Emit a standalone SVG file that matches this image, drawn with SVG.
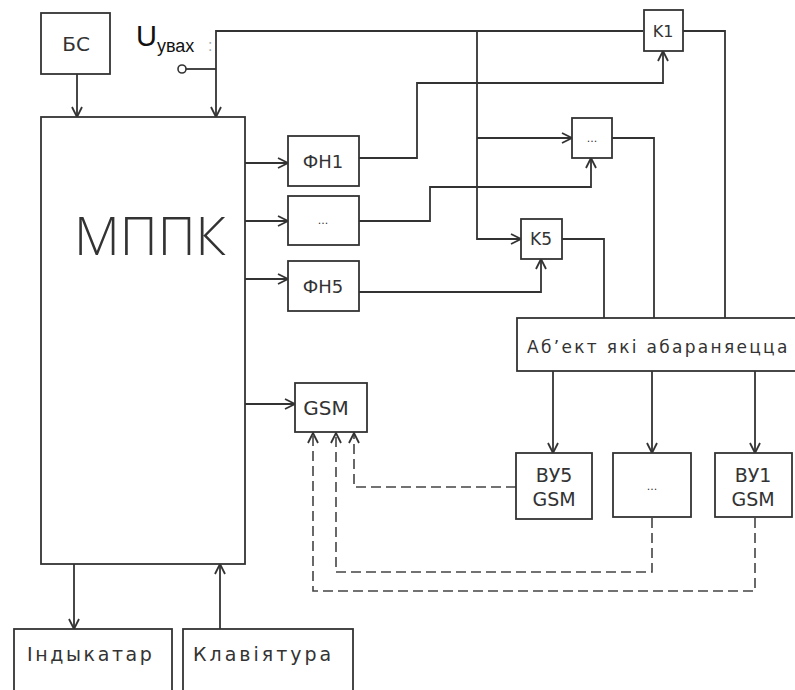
<svg xmlns="http://www.w3.org/2000/svg" width="795" height="690" viewBox="0 0 795 690">
<style>
.box{fill:#fff;stroke:#333;stroke-width:1.8}
.ln{fill:none;stroke:#333;stroke-width:1.8}
.dash{fill:none;stroke:#444;stroke-width:1.6;stroke-dasharray:10 5}
.t{font-family:"DejaVu Sans","Liberation Sans",sans-serif;fill:#333;text-anchor:middle}
</style>
<defs>
<marker id="ar" viewBox="0 0 12 12" refX="11" refY="6" markerWidth="12" markerHeight="12" markerUnits="userSpaceOnUse" orient="auto">
<path d="M1,1 L11,6 L1,11" fill="none" stroke="#333" stroke-width="1.8"/>
</marker>
</defs>
<rect width="795" height="690" fill="#fff"/>
<g id="connectors">
<path class="ln" d="M77,74 V117" marker-end="url(#ar)"/>
<path class="ln" d="M643,31 H216 V117" marker-end="url(#ar)"/>
<path class="ln" d="M186,69 H216"/>
<path class="ln" d="M477,31 V239 H521" marker-end="url(#ar)"/>
<path class="ln" d="M477,138 H572" marker-end="url(#ar)"/>
<path class="ln" d="M245,163 H288" marker-end="url(#ar)"/>
<path class="ln" d="M245,221 H288" marker-end="url(#ar)"/>
<path class="ln" d="M245,279 H288" marker-end="url(#ar)"/>
<path class="ln" d="M245,404 H295" marker-end="url(#ar)"/>
<path class="ln" d="M359,158 H417 V83 H663 V51" marker-end="url(#ar)"/>
<path class="ln" d="M359,221 H430 V187 H591 V158" marker-end="url(#ar)"/>
<path class="ln" d="M359,292 H541 V259" marker-end="url(#ar)"/>
<path class="ln" d="M683,31 H725 V318"/>
<path class="ln" d="M612,138 H654 V318"/>
<path class="ln" d="M562,239 H604 V318"/>
<path class="ln" d="M553,371 V453" marker-end="url(#ar)"/>
<path class="ln" d="M652,371 V453" marker-end="url(#ar)"/>
<path class="ln" d="M755,371 V453" marker-end="url(#ar)"/>
<path class="dash" d="M516,487 H354 V433" marker-end="url(#ar)"/>
<path class="dash" d="M652,518 V572 H336 V433" marker-end="url(#ar)"/>
<path class="dash" d="M755,518 V591 H313 V433" marker-end="url(#ar)"/>
<path class="ln" d="M74,564 V629" marker-end="url(#ar)"/>
<path class="ln" d="M220,629 V564" marker-end="url(#ar)"/>
</g>
<g id="input">
<circle cx="182" cy="69" r="4" fill="#fff" stroke="#333" stroke-width="1.6"/>
<text x="136" y="46" font-family="Liberation Sans,Arial,sans-serif" font-size="29" fill="#111">U<tspan font-size="18" dy="6">увах</tspan></text>
<text x="208" y="51" font-family="Liberation Sans,Arial,sans-serif" font-size="16" fill="#aaa">:</text>
</g>
<g id="bs"><rect class="box" x="41" y="13" width="69" height="61"/><text class="t" x="76" y="51" font-size="20">БС</text></g>
<g id="mppk"><rect class="box" x="41" y="117" width="204" height="447"/><text class="t" x="150" y="255" font-size="53" fill="#555" style="font-weight:300;font-family:'Open Sans','DejaVu Sans',sans-serif">МППК</text></g>
<g id="k1"><rect class="box" x="644" y="10" width="39" height="41"/><text class="t" x="663" y="37" font-size="16">K1</text></g>
<g id="kmid"><rect class="box" x="572" y="118" width="40" height="40"/><text class="t" x="592" y="142" font-size="11" fill="#666">...</text></g>
<g id="k5"><rect class="box" x="521" y="219" width="41" height="40"/><text class="t" x="541" y="245" font-size="17">K5</text></g>
<g id="fh1"><rect class="box" x="288" y="136" width="71" height="50"/><text class="t" x="323" y="168" font-size="18">ФН1</text></g>
<g id="fhmid"><rect class="box" x="288" y="196" width="71" height="49"/><text class="t" x="323" y="224" font-size="11" fill="#666">...</text></g>
<g id="fh5"><rect class="box" x="288" y="261" width="71" height="50"/><text class="t" x="323" y="293" font-size="18">ФН5</text></g>
<g id="object"><rect class="box" x="517" y="318" width="290" height="53"/><text x="527" y="353" font-family="DejaVu Sans,sans-serif" font-size="17" fill="#333" letter-spacing="2.3">Аб’ект які абараняецца</text></g>
<g id="gsm"><rect class="box" x="295" y="383" width="72" height="49"/><text class="t" x="326" y="415" font-size="20">GSM</text></g>
<g id="by5"><rect class="box" x="516" y="453" width="76" height="66"/><text class="t" x="554" y="482" font-size="19">ВУ5</text><text class="t" x="554" y="506" font-size="19">GSM</text></g>
<g id="bymid"><rect class="box" x="613" y="453" width="78" height="64"/><text class="t" x="652" y="490" font-size="11" fill="#666">...</text></g>
<g id="by1"><rect class="box" x="715" y="453" width="77" height="64"/><text class="t" x="753" y="482" font-size="19">ВУ1</text><text class="t" x="753" y="506" font-size="19">GSM</text></g>
<g id="indicator"><rect class="box" x="14" y="629" width="158" height="70"/><text x="27" y="661" font-family="DejaVu Sans,sans-serif" font-size="19" fill="#333" letter-spacing="2.6">Індыкатар</text></g>
<g id="keyboard"><rect class="box" x="183" y="629" width="170" height="70"/><text x="193" y="661" font-family="DejaVu Sans,sans-serif" font-size="19" fill="#333" letter-spacing="3">Клавіятура</text></g>
</svg>
